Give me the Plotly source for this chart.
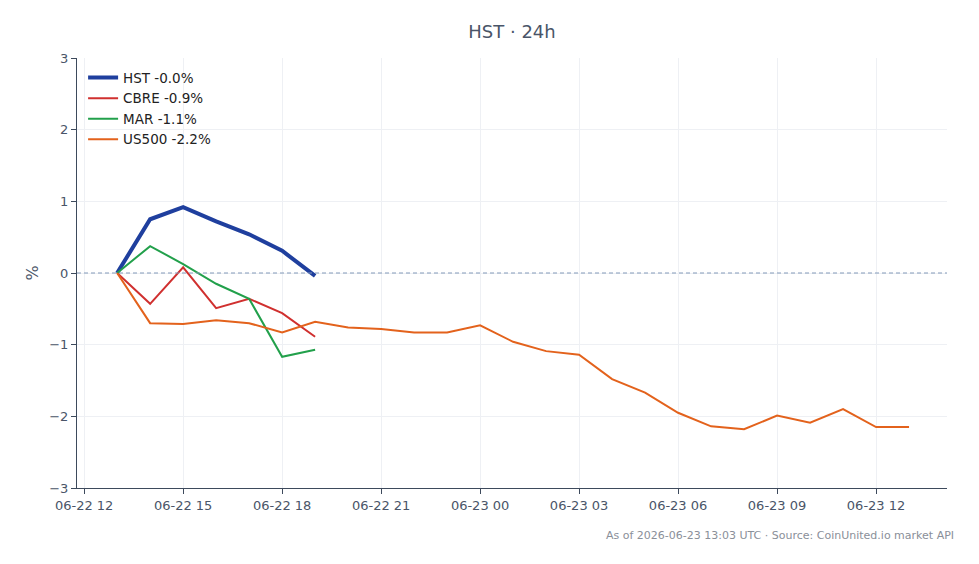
import plotly.graph_objects as go
import pandas as pd

times = pd.date_range("2026-06-22 13:00", "2026-06-23 13:00", freq="h")
hst = [0.0, 0.75, 0.92, 0.72, 0.54, 0.31, -0.04]
cbre = [0.0, -0.43, 0.08, -0.49, -0.36, -0.56, -0.89]
mar = [0.0, 0.375, 0.125, -0.15, -0.36, -1.17, -1.07]
us500 = [0.0, -0.70, -0.71, -0.66, -0.70, -0.83, -0.68, -0.76, -0.78, -0.83, -0.83,
         -0.73, -0.96, -1.09, -1.14, -1.48, -1.67, -1.95, -2.14, -2.18, -1.99, -2.09,
         -1.90, -2.15, -2.15]

names = ["HST -0.0%", "CBRE -0.9%", "MAR -1.1%", "US500 -2.2%"]
colors = ["#1f3f9e", "#d0302f", "#22a04b", "#e3621c"]
widths = [4, 2, 2, 2]
series = [hst, cbre, mar, us500]

fig = go.Figure()
for s, n, c, w in zip(series, names, colors, widths):
    fig.add_trace(go.Scatter(x=times[:len(s)], y=s, mode="lines", name=n,
                             line=dict(color=c, width=w)))

fig.add_hline(y=0, line=dict(color="#8299b8", width=1, dash="4px,3px"))

axis_color = "#3d4a5c"
fig.update_layout(
    width=979, height=564,
    margin=dict(l=77, r=32, t=58, b=76),
    paper_bgcolor="white", plot_bgcolor="white",
    font=dict(family="DejaVu Sans", size=13, color="#4a5568"),
    title=dict(text="HST · 24h", xref="paper", x=0.5, xanchor="center",
               yref="container", y=1 - 32 / 564, yanchor="middle",
               font=dict(size=18, color="#4a5568")),
    showlegend=True,
    legend=dict(x=0.007, y=0.99, xanchor="left", yanchor="top",
                bgcolor="rgba(255,255,255,0)", font=dict(size=13.5, color="#222222")),
    xaxis=dict(range=[pd.Timestamp("2026-06-22 11:47"), pd.Timestamp("2026-06-23 14:09")],
               dtick=3 * 3600 * 1000, tick0="2026-06-22 12:00", tickformat="%m-%d %H",
               showline=True, linecolor=axis_color, ticks="outside", tickcolor=axis_color,
               ticklen=5, showgrid=True, gridcolor="#eef0f4", zeroline=False),
    yaxis=dict(range=[-3, 3], dtick=1, title=dict(text="%", standoff=6),
               showline=True, linecolor=axis_color, ticks="outside", tickcolor=axis_color,
               ticklen=5, showgrid=True, gridcolor="#eef0f4", zeroline=False),
    annotations=[dict(text="As of 2026-06-23 13:03 UTC · Source: CoinUnited.io market API",
                      xref="paper", yref="paper", x=1.01, y=-0.09, xanchor="right",
                      yanchor="top", showarrow=False,
                      font=dict(size=11, color="#8a8f99"))],
)

fig.write_html("out.html")
